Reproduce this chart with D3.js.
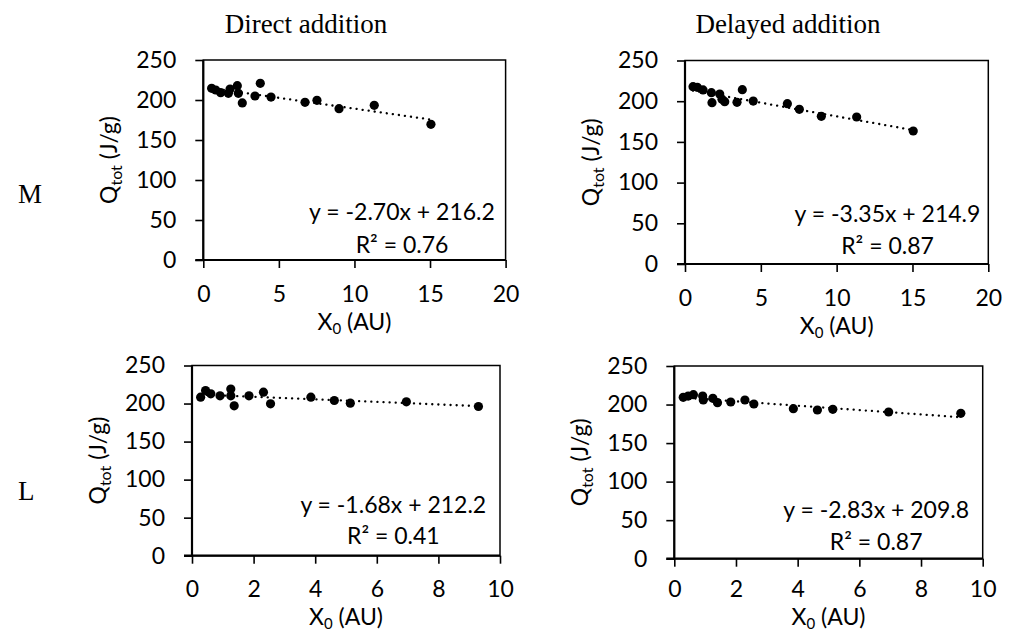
<!DOCTYPE html>
<html><head><meta charset="utf-8">
<script src="https://cdn.jsdelivr.net/npm/d3@7"></script>
<style>body{margin:0;background:#fff}svg{display:block}</style>
</head><body>
<svg id="chart" width="1012" height="631"></svg>
<script>
// ---- data ----
const colTitles = ["Direct addition", "Delayed addition"];
const rowLabels = ["M", "L"];
const xTicksM = [0, 5, 10, 15, 20];
const xTicksL = [0, 2, 4, 6, 8, 10];
const yTicks = [0, 50, 100, 150, 200, 250];

const mDirectX = [0.55, 0.82, 1.15, 1.66, 1.77, 2.25, 2.32, 2.58, 3.42, 3.77, 4.48, 6.73, 7.52, 8.98, 11.31, 15.06];
const mDirectY = [214.6, 212.5, 209.2, 208.3, 213.7, 217.9, 208.3, 196.3, 205.0, 220.8, 203.7, 197.1, 199.6, 189.1, 193.3, 169.6];
const mDelayedX = [0.53, 0.81, 1.19, 1.74, 1.78, 2.29, 2.44, 2.62, 3.43, 3.78, 4.50, 6.75, 7.54, 8.99, 11.32, 15.05];
const mDelayedY = [217.8, 217.0, 213.8, 210.5, 198.2, 208.8, 202.3, 199.4, 198.6, 214.1, 200.2, 197.0, 190.0, 181.4, 180.6, 163.4];
const lDirectX = [0.28, 0.44, 0.61, 0.91, 1.26, 1.26, 1.37, 1.85, 2.32, 2.55, 3.86, 4.62, 5.14, 6.96, 9.30];
const lDirectY = [208.4, 217.1, 212.8, 210.1, 219.0, 210.1, 197.0, 210.1, 215.0, 199.6, 208.4, 204.0, 200.5, 202.2, 196.1];
const lDelayedX = [0.29, 0.45, 0.62, 0.92, 0.94, 1.25, 1.40, 1.83, 2.29, 2.58, 3.86, 4.64, 5.14, 6.95, 9.29];
const lDelayedY = [209.4, 211.0, 212.8, 211.0, 205.9, 208.1, 202.4, 203.3, 205.9, 200.7, 194.6, 192.9, 193.8, 190.3, 188.6];

const slopes = [-2.70, -3.35, -1.68, -2.83];
const intercepts = [216.2, 214.9, 212.2, 209.8];
const rSquared = [0.76, 0.87, 0.41, 0.87];

// ---- layout ----
const panels = [
  {xs: mDirectX,  ys: mDirectY,  xMax: 20, xt: xTicksM, x0: 203.3, x1: 505.6, yB: 260,   yT: 60,    eqC: 402,   eqB: 40,   r2B: 7.5,  xPad: 18},
  {xs: mDelayedX, ys: mDelayedY, xMax: 20, xt: xTicksM, x0: 685,   x1: 988.3, yB: 264,   yT: 60.5,  eqC: 887.5, eqB: 42,   r2B: 9.7,  xPad: 18},
  {xs: lDirectX,  ys: lDirectY,  xMax: 10, xt: xTicksL, x0: 192,   x1: 500,   yB: 555.7, yT: 365.5, eqC: 393.3, eqB: 42.4, r2B: 11.7, xPad: 17},
  {xs: lDelayedX, ys: lDelayedY, xMax: 10, xt: xTicksL, x0: 674.3, x1: 982.7, yB: 558.7, yT: 366,   eqC: 876.2, eqB: 40.4, r2B: 8.7,  xPad: 14}
];

const svg = d3.select("#chart");
const sans = "Lato, 'Open Sans', sans-serif";
const serif = "'Liberation Serif', 'DejaVu Serif', serif";

panels.forEach((p, i) => {
  const x = d3.scaleLinear().domain([0, p.xMax]).range([p.x0, p.x1]);
  const y = d3.scaleLinear().domain([0, 250]).range([p.yB, p.yT]);
  const g = svg.append("g");

  // plot border (top/right)
  g.append("rect").attr("x", p.x0).attr("y", p.yT)
    .attr("width", p.x1 - p.x0).attr("height", p.yB - p.yT)
    .attr("fill", "none").attr("stroke", "#000").attr("stroke-width", 1.5);

  // y axis
  const ya = g.append("g").attr("transform", `translate(${p.x0},0)`)
    .call(d3.axisLeft(y).tickValues(yTicks).tickSize(8).tickPadding(19).tickFormat(d3.format("d")));
  ya.select(".domain").attr("stroke-width", 2.2).attr("d", `M0,${p.yT}V${p.yB}`);
  ya.selectAll(".tick line").attr("stroke-width", 1.6);
  ya.selectAll(".tick text").attr("font-family", sans).attr("font-size", 23).attr("fill", "#000");

  // x axis
  const xa = g.append("g").attr("transform", `translate(0,${p.yB})`)
    .call(d3.axisBottom(x).tickValues(p.xt).tickSize(8).tickPadding(p.xPad).tickFormat(d3.format("d")));
  xa.select(".domain").attr("stroke-width", 2.2).attr("d", `M${p.x0 - 8},0H${p.x1}`);
  xa.selectAll(".tick line").attr("stroke-width", 1.6);
  xa.selectAll(".tick text").attr("font-family", sans).attr("font-size", 23).attr("fill", "#000");

  // axis titles
  const xt = g.append("text").attr("x", (p.x0 + p.x1) / 2).attr("y", Math.min(p.yB + 70, 625))
    .attr("text-anchor", "middle").attr("font-family", sans).attr("font-size", 23);
  xt.append("tspan").text("X");
  xt.append("tspan").attr("font-size", 15).attr("dy", 4).text("0");
  xt.append("tspan").attr("dy", -4).text(" (AU)");

  const yt = g.append("text")
    .attr("transform", `translate(${p.x0 - 86},${(p.yT + p.yB) / 2}) rotate(-90)`)
    .attr("text-anchor", "middle").attr("font-family", sans).attr("font-size", 23);
  yt.append("tspan").text("Q");
  yt.append("tspan").attr("font-size", 16).attr("dy", 5).text("tot");
  yt.append("tspan").attr("dy", -5).text(" (J/g)");

  // trendline
  const xmin = d3.min(p.xs), xmax = d3.max(p.xs);
  g.append("line")
    .attr("x1", x(xmin)).attr("y1", y(slopes[i] * xmin + intercepts[i]))
    .attr("x2", x(xmax)).attr("y2", y(slopes[i] * xmax + intercepts[i]))
    .attr("stroke", "#000").attr("stroke-width", 2.3)
    .attr("stroke-dasharray", "0.1 6").attr("stroke-linecap", "round");

  // points
  g.selectAll("circle.pt").data(p.xs.map((v, k) => [v, p.ys[k]])).join("circle")
    .attr("class", "pt").attr("cx", d => x(d[0])).attr("cy", d => y(d[1]))
    .attr("r", 4.6).attr("fill", "#000");

  // equation
  const eq = `y = ${slopes[i].toFixed(2)}x + ${intercepts[i].toFixed(1)}`;
  g.append("text").attr("x", p.eqC).attr("y", p.yB - p.eqB)
    .attr("text-anchor", "middle").attr("font-family", sans).attr("font-size", 23).text(eq);
  g.append("text").attr("x", p.eqC).attr("y", p.yB - p.r2B)
    .attr("text-anchor", "middle").attr("font-family", sans).attr("font-size", 23)
    .text(`R² = ${rSquared[i].toFixed(2)}`);
});

// column titles
const colCenters = [306, 788];
colTitles.forEach((t, i) => {
  svg.append("text").attr("x", colCenters[i]).attr("y", 33).attr("text-anchor", "middle")
    .attr("font-family", serif).attr("font-size", 27).text(t);
});
// row labels
const rowY = [203, 500];
rowLabels.forEach((t, i) => {
  svg.append("text").attr("x", 18).attr("y", rowY[i])
    .attr("font-family", serif).attr("font-size", 27).text(t);
});
</script>
</body></html>
